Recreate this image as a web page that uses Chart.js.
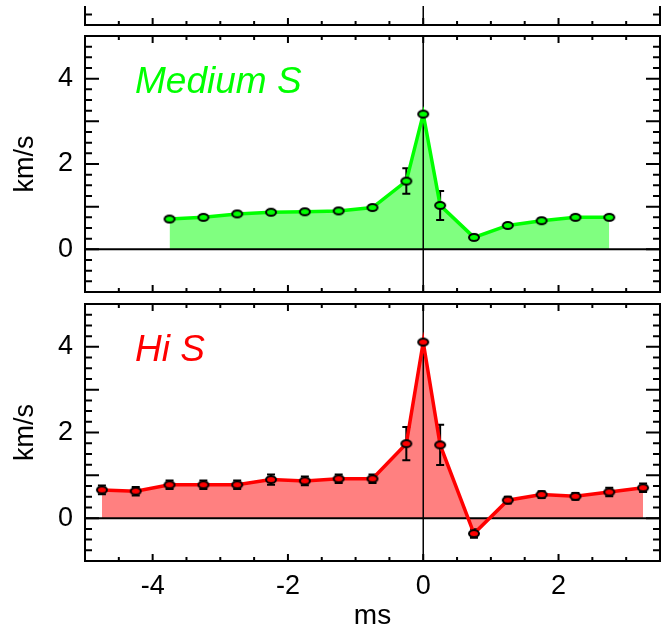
<!DOCTYPE html>
<html>
<head>
<meta charset="utf-8">
<script src="https://cdn.jsdelivr.net/npm/chart.js@4/dist/chart.umd.min.js"></script>
<style>
  body { margin: 0; width: 661px; height: 630px; overflow: hidden; position: relative; background: #fff; }
  .box { position: absolute; left: 0; width: 661px; overflow: hidden; }
  canvas { position: absolute; left: 0; }
</style>
</head>
<body>
<div class="box" style="top:6px;height:24px"><canvas id="topChart" width="661" height="265" style="top:-241px"></canvas></div>
<div class="box" style="top:0;height:300px"><canvas id="medChart" width="661" height="300" style="top:0"></canvas></div>
<div class="box" style="top:296px;height:334px"><canvas id="hiChart" width="661" height="334" style="top:0"></canvas></div>
<script>
// time in ms, speed in km/s
const timesMed = [-3.75, -3.25, -2.75, -2.25, -1.75, -1.25, -0.75, -0.25, 0, 0.25, 0.75, 1.25, 1.75, 2.25, 2.75];
const speedMed = [0.71, 0.75, 0.83, 0.87, 0.88, 0.90, 0.98, 1.60, 3.17, 1.03, 0.28, 0.56, 0.67, 0.75, 0.75];
const errMed = [0.05, 0.05, 0.05, 0.05, 0.05, 0.05, 0.05, 0.30, 0.03, 0.34, 0.06, 0.04, 0.05, 0.05, 0.05];

const timesHi = [-4.75, -4.25, -3.75, -3.25, -2.75, -2.25, -1.75, -1.25, -0.75, -0.25, 0, 0.25, 0.75, 1.25, 1.75, 2.25, 2.75, 3.25];
const speedHi = [0.66, 0.63, 0.78, 0.78, 0.78, 0.90, 0.87, 0.92, 0.92, 1.74, 4.11, 1.71, -0.36, 0.42, 0.55, 0.51, 0.61, 0.71];
const errHi = [0.10, 0.10, 0.10, 0.10, 0.10, 0.12, 0.10, 0.10, 0.10, 0.39, 0.03, 0.47, 0.10, 0.08, 0.08, 0.08, 0.10, 0.10];

const xRange = [-5, 3.5];
const yRange = [-1, 5];
const xTickLabels = [-4, -2, 0, 2];
const yTickLabels = [0, 2, 4];

const FONT = "'Liberation Sans', Arial, sans-serif";

function makeMarker(fill) {
  const c = document.createElement("canvas");
  c.width = 14; c.height = 11;
  const g = c.getContext("2d");
  g.beginPath();
  g.ellipse(7, 5.5, 5, 3.5, 0, 0, Math.PI * 2);
  g.fillStyle = fill;
  g.fill();
  g.lineWidth = 2;
  g.strokeStyle = "#000";
  g.stroke();
  return c;
}

const panelFrame = {
  id: "panelFrame",
  beforeDatasetsDraw(chart) {
    const { ctx, chartArea: a, scales: { x, y } } = chart;
    ctx.save();
    ctx.beginPath();
    ctx.rect(a.left, a.top, a.right - a.left, a.bottom - a.top);
    ctx.clip();
    ctx.strokeStyle = "#000";
    ctx.lineWidth = 1.5;
    const x0 = x.getPixelForValue(0);
    ctx.beginPath(); ctx.moveTo(x0, a.top); ctx.lineTo(x0, a.bottom); ctx.stroke();
    const y0 = y.getPixelForValue(0);
    ctx.lineWidth = 2;
    ctx.beginPath(); ctx.moveTo(a.left, y0); ctx.lineTo(a.right, y0); ctx.stroke();

    // error bars
    chart.data.datasets.forEach(ds => {
      if (!ds.errors) return;
      ds.data.forEach((p, i) => {
        const e = ds.errors[i];
        const px = x.getPixelForValue(p.x);
        const t = y.getPixelForValue(p.y + e);
        const b = y.getPixelForValue(p.y - e);
        ctx.beginPath();
        ctx.moveTo(px, t); ctx.lineTo(px, b);
        ctx.moveTo(px - 4, t); ctx.lineTo(px + 4, t);
        ctx.moveTo(px - 4, b); ctx.lineTo(px + 4, b);
        ctx.stroke();
      });
    });
    ctx.restore();
  },
  afterDraw(chart, args, opts) {
    const { ctx, chartArea: a, scales: { x, y } } = chart;
    ctx.save();
    ctx.strokeStyle = "#000";
    ctx.lineWidth = 2;
    ctx.strokeRect(a.left, a.top, a.right - a.left, a.bottom - a.top);

    ctx.beginPath();
    for (let k = Math.ceil(x.min * 2); k <= Math.floor(x.max * 2); k++) {
      const px = x.getPixelForValue(k / 2);
      const len = k % 4 === 0 ? 7 : 4;
      ctx.moveTo(px, a.top); ctx.lineTo(px, a.top + len);
      ctx.moveTo(px, a.bottom); ctx.lineTo(px, a.bottom - len);
    }
    for (let k = Math.ceil(y.min * 4); k <= Math.floor(y.max * 4); k++) {
      const py = y.getPixelForValue(k / 4);
      const len = k % 4 === 0 ? 14 : 7;
      ctx.moveTo(a.left, py); ctx.lineTo(a.left + len, py);
      ctx.moveTo(a.right, py); ctx.lineTo(a.right - len, py);
    }
    ctx.stroke();

    if (opts.label) {
      ctx.font = "italic 37px " + FONT;
      ctx.fillStyle = opts.color;
      ctx.textBaseline = "alphabetic";
      ctx.fillText(opts.label, a.left + 50, a.top + 57);
    }
    ctx.restore();
  },
};

function seriesData(times, vals) {
  return times.map((t, i) => ({ x: t, y: vals[i] }));
}

function dataset(times, vals, errs, line, fill) {
  return {
    data: seriesData(times, vals),
    errors: errs,
    borderColor: line,
    backgroundColor: fill,
    borderWidth: 3.5,
    fill: "origin",
    tension: 0,
    pointStyle: makeMarker(line),
    pointRadius: 5,
    pointHoverRadius: 5,
  };
}

function yAxis(show) {
  return {
    type: "linear",
    min: yRange[0],
    max: yRange[1],
    display: show,
    grid: { display: false, drawTicks: false },
    border: { display: false },
    afterBuildTicks: s => { s.ticks = yTickLabels.map(v => ({ value: v })); },
    ticks: { color: "#000", padding: 12, font: { family: FONT, size: 27 } },
    title: { display: true, text: "km/s", color: "#000", padding: { top: 9, bottom: 0 }, font: { family: FONT, size: 27 } },
    afterFit: s => {
      s.paddingTop = 0;
      s.paddingBottom = 0;
      if (show) s.width = 85;
    },
  };
}

function xAxis(show) {
  return {
    type: "linear",
    min: xRange[0],
    max: xRange[1],
    display: show,
    grid: { display: false, drawTicks: false },
    border: { display: false },
    afterBuildTicks: s => { s.ticks = xTickLabels.map(v => ({ value: v })); },
    ticks: { color: "#000", padding: 9, maxRotation: 0, font: { family: FONT, size: 27 } },
    title: { display: true, text: "ms", color: "#000", padding: { top: 0, bottom: -3 }, font: { family: FONT, size: 28 } },
    afterFit: s => {
      s.paddingLeft = 0;
      s.paddingRight = 0;
      if (show) s.height = 69;
    },
  };
}

function baseOptions(padding, label, color) {
  return {
    responsive: false,
    animation: false,
    devicePixelRatio: 1,
    layout: { padding, autoPadding: false },
    plugins: {
      legend: { display: false },
      tooltip: { enabled: false },
      filler: { drawTime: "beforeDatasetsDraw" },
      panelFrame: { label, color },
    },
  };
}

// top panel, only its lower edge is visible
const topOpts = baseOptions({ top: 5, bottom: 5, left: 85, right: 1 });
topOpts.scales = { x: xAxis(false), y: yAxis(false) };
new Chart(document.getElementById("topChart"), {
  type: "line",
  data: { datasets: [] },
  options: topOpts,
  plugins: [panelFrame],
});

const medOpts = baseOptions({ top: 36, bottom: 8, left: 0, right: 1 }, "Medium S", "#00ff00");
medOpts.scales = { x: xAxis(false), y: yAxis(true) };
new Chart(document.getElementById("medChart"), {
  type: "line",
  data: { datasets: [dataset(timesMed, speedMed, errMed, "#00ff00", "#80ff80")] },
  options: medOpts,
  plugins: [panelFrame],
});

const hiOpts = baseOptions({ top: 8, bottom: 0, left: 0, right: 1 }, "Hi S", "#ff0000");
hiOpts.scales = { x: xAxis(true), y: yAxis(true) };
new Chart(document.getElementById("hiChart"), {
  type: "line",
  data: { datasets: [dataset(timesHi, speedHi, errHi, "#ff0000", "#ff8080")] },
  options: hiOpts,
  plugins: [panelFrame],
});
</script>
</body>
</html>
